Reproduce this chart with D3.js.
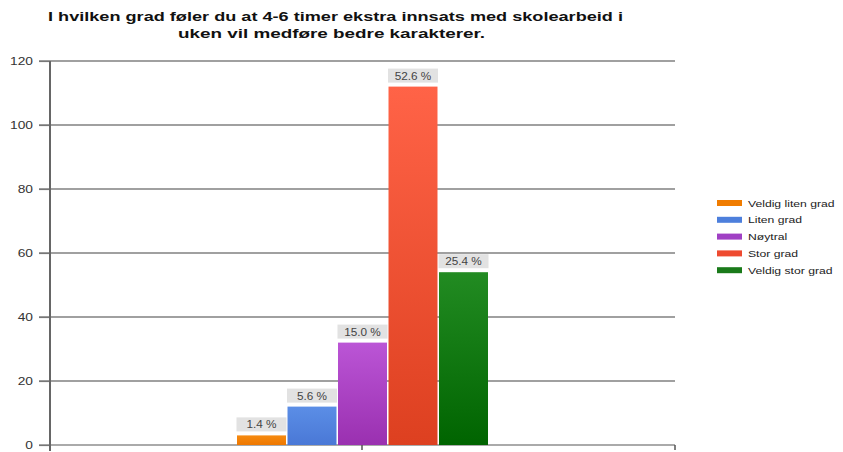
<!DOCTYPE html>
<html><head><meta charset="utf-8">
<script src="https://cdn.jsdelivr.net/npm/d3@7"></script>
<style>body{margin:0;background:#fff;} svg{display:block;font-family:"Liberation Sans",Arial,sans-serif;}</style>
</head><body>
<script>
const categories = ["Veldig liten grad","Liten grad","Nøytral","Stor grad","Veldig stor grad"];
const values = [3, 12, 32, 112, 54];
const percentLabels = ["1.4 %","5.6 %","15.0 %","52.6 %","25.4 %"];
const yTicks = [0,20,40,60,80,100,120];
const colorsTop = ["#f58a10","#5b8ee6","#bb55d6","#ff6347","#228b22"];
const colorsBottom = ["#ee7700","#4a78d6","#9a30b0","#dd4020","#006400"];
const legendColors = ["#f07c00","#4d7fdc","#a040c4","#ee4a30","#1a7a1a"];
const title = ["I hvilken grad føler du at 4-6 timer ekstra innsats med skolearbeid i","uken vil medføre bedre karakterer."];

const W=843,H=452;
const svg=d3.select("body").append("svg").attr("width",W).attr("height",H);
const defs=svg.append("defs");
categories.forEach((c,i)=>{
  const g=defs.append("linearGradient").attr("id","g"+i).attr("x1",0).attr("y1",0).attr("x2",0).attr("y2",1);
  g.append("stop").attr("offset","0%").attr("stop-color",colorsTop[i]);
  g.append("stop").attr("offset","100%").attr("stop-color",colorsBottom[i]);
});

const y=d3.scaleLinear().domain([0,120]).range([445,61]);
const x=d3.scaleBand().domain(categories).range([237,488]).paddingInner(0.03);
const plotL=50, plotR=675;

function stretch(sel, f){
  sel.each(function(){ const w=this.getComputedTextLength(); d3.select(this).attr("textLength",w*f).attr("lengthAdjust","spacingAndGlyphs"); });
}

// title
const tx=[48,178], tl=[575,307];
svg.append("g").selectAll("text").data(title).join("text")
  .attr("x",(d,i)=>tx[i]).attr("y",(d,i)=>21+i*17)
  .attr("font-size",13.5).attr("font-weight","bold").attr("fill","#111")
  .attr("textLength",(d,i)=>tl[i]).attr("lengthAdjust","spacingAndGlyphs").text(d=>d);

// gridlines
svg.append("g").selectAll("line").data(yTicks.filter(t=>t>0)).join("line")
  .attr("x1",39).attr("x2",plotR).attr("y1",d=>y(d)).attr("y2",d=>y(d))
  .attr("stroke","#808080").attr("stroke-width",1.5);
// zero line
svg.append("line").attr("x1",39).attr("x2",plotR).attr("y1",y(0)).attr("y2",y(0))
  .attr("stroke","#aaa").attr("stroke-width",2);
// bottom ticks
[362, plotR].forEach(px=>svg.append("line").attr("x1",px).attr("x2",px).attr("y1",y(0)).attr("y2",y(0)+5).attr("stroke","#555").attr("stroke-width",1.5));

// y axis
const ya=svg.append("g").attr("transform",`translate(${plotL},0)`)
  .call(d3.axisLeft(y).tickValues(yTicks).tickSize(11).tickPadding(6));
ya.select(".domain").remove();
ya.selectAll(".tick line").attr("stroke","#777").attr("stroke-width",1.2);
ya.selectAll(".tick text").attr("font-size",11).attr("fill","#333").attr("font-family","Liberation Sans, Arial, sans-serif");
stretch(ya.selectAll(".tick text"),1.25);
svg.append("line").attr("x1",plotL).attr("x2",plotL).attr("y1",y(120)).attr("y2",y(0)+6)
  .attr("stroke","#666").attr("stroke-width",2);

// bars
svg.append("g").selectAll("rect").data(values).join("rect")
  .attr("x",(d,i)=>x(categories[i])).attr("width",x.bandwidth())
  .attr("y",d=>y(d)).attr("height",d=>y(0)-y(d))
  .attr("fill",(d,i)=>`url(#g${i})`);

// labels
const lab=svg.append("g").selectAll("g").data(values).join("g")
  .attr("transform",(d,i)=>`translate(${x(categories[i])+x.bandwidth()/2},${y(d)-3})`);
lab.append("rect").attr("x",-25).attr("y",-15).attr("width",50).attr("height",14).attr("fill","#e2e2e2");
const lt=lab.append("text").attr("y",-4).attr("text-anchor","middle").attr("font-size",10.5).attr("fill","#444")
  .text((d,i)=>percentLabels[i]);
stretch(lt,1.12);

// legend
const lg=svg.append("g").selectAll("g").data(categories).join("g")
  .attr("transform",(d,i)=>`translate(717,${203+i*16.8})`);
lg.append("rect").attr("x",0).attr("y",-3).attr("width",25).attr("height",6).attr("fill",(d,i)=>legendColors[i]);
const lgt=lg.append("text").attr("x",31).attr("y",3.5).attr("font-size",9.5).attr("fill","#222").text(d=>d);
stretch(lgt,1.28);
</script>
</body></html>
